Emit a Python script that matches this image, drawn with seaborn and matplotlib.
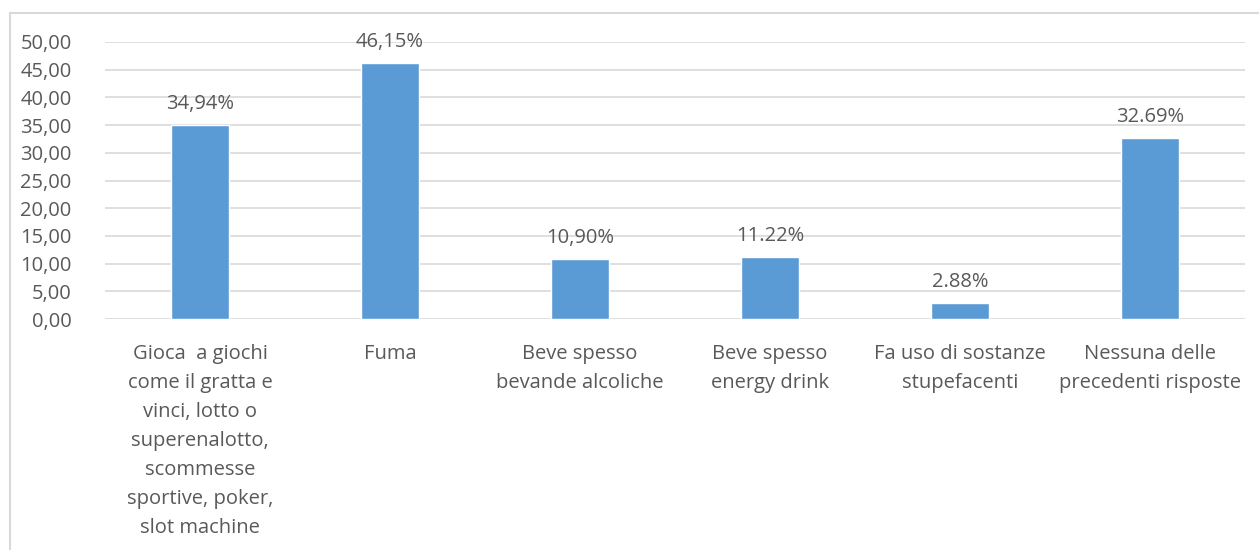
import matplotlib
matplotlib.use("Agg")
import matplotlib.pyplot as plt
from matplotlib.lines import Line2D
import seaborn as sns
import pandas as pd

categories = [
    "Gioca  a giochi\ncome il gratta e\nvinci, lotto o\nsuperenalotto,\nscommesse\nsportive, poker,\nslot machine",
    "Fuma",
    "Beve spesso\nbevande alcoliche",
    "Beve spesso\nenergy drink",
    "Fa uso di sostanze\nstupefacenti",
    "Nessuna delle\nprecedenti risposte",
]
values = [34.94, 46.15, 10.90, 11.22, 2.88, 32.69]
value_labels = ["34,94%", "46,15%", "10,90%", "11.22%", "2.88%", "32.69%"]
y_ticks = [0, 5, 10, 15, 20, 25, 30, 35, 40, 45, 50]

sns.set_theme(style="white")
plt.rcParams["font.family"] = ["Open Sans", "DejaVu Sans"]

text_color = "#595959"
bar_color = "#5B9BD5"
grid_color = "#D9D9D9"
fs = 14.5

df = pd.DataFrame({"categoria": categories, "valore": values})

fig = plt.figure(figsize=(12.59, 5.5), dpi=100)
ax = fig.add_axes([105 / 1259, 1 - 319 / 550, 1140 / 1259, 277 / 550])

sns.barplot(data=df, x="categoria", y="valore", color=bar_color,
            width=0.31, saturation=1, ax=ax, zorder=3)

ax.set_ylim(0, 50)
ax.set_xlim(-0.5, len(categories) - 0.5)
ax.set_yticks(y_ticks)
ax.set_yticklabels([f"{t:.2f}".replace(".", ",") for t in y_ticks])
ax.yaxis.grid(True, color=grid_color, linewidth=1.2, zorder=0)
ax.set_axisbelow(True)
for s in ax.spines.values():
    s.set_visible(False)
ax.set_xlabel("")
ax.set_ylabel("")
ax.tick_params(axis="both", length=0, labelsize=fs, labelcolor=text_color)
ax.tick_params(axis="y", pad=24)
ax.tick_params(axis="x", pad=18)
for lbl in ax.get_xticklabels():
    lbl.set_linespacing(1.6)

for patch, lab in zip(ax.patches, value_labels):
    ax.annotate(lab, (patch.get_x() + patch.get_width() / 2, patch.get_height()),
                xytext=(0, 8), textcoords="offset points",
                ha="center", va="bottom", fontsize=fs, color=text_color)

# outer chart frame
frame_kw = dict(color="#D9D9D9", linewidth=1.5, transform=fig.transFigure)
fig.add_artist(Line2D([10 / 1259, 1], [1 - 13 / 550, 1 - 13 / 550], **frame_kw))
fig.add_artist(Line2D([10 / 1259, 10 / 1259], [0, 1 - 13 / 550], **frame_kw))

fig.savefig("out.png", dpi=100, facecolor="white")
